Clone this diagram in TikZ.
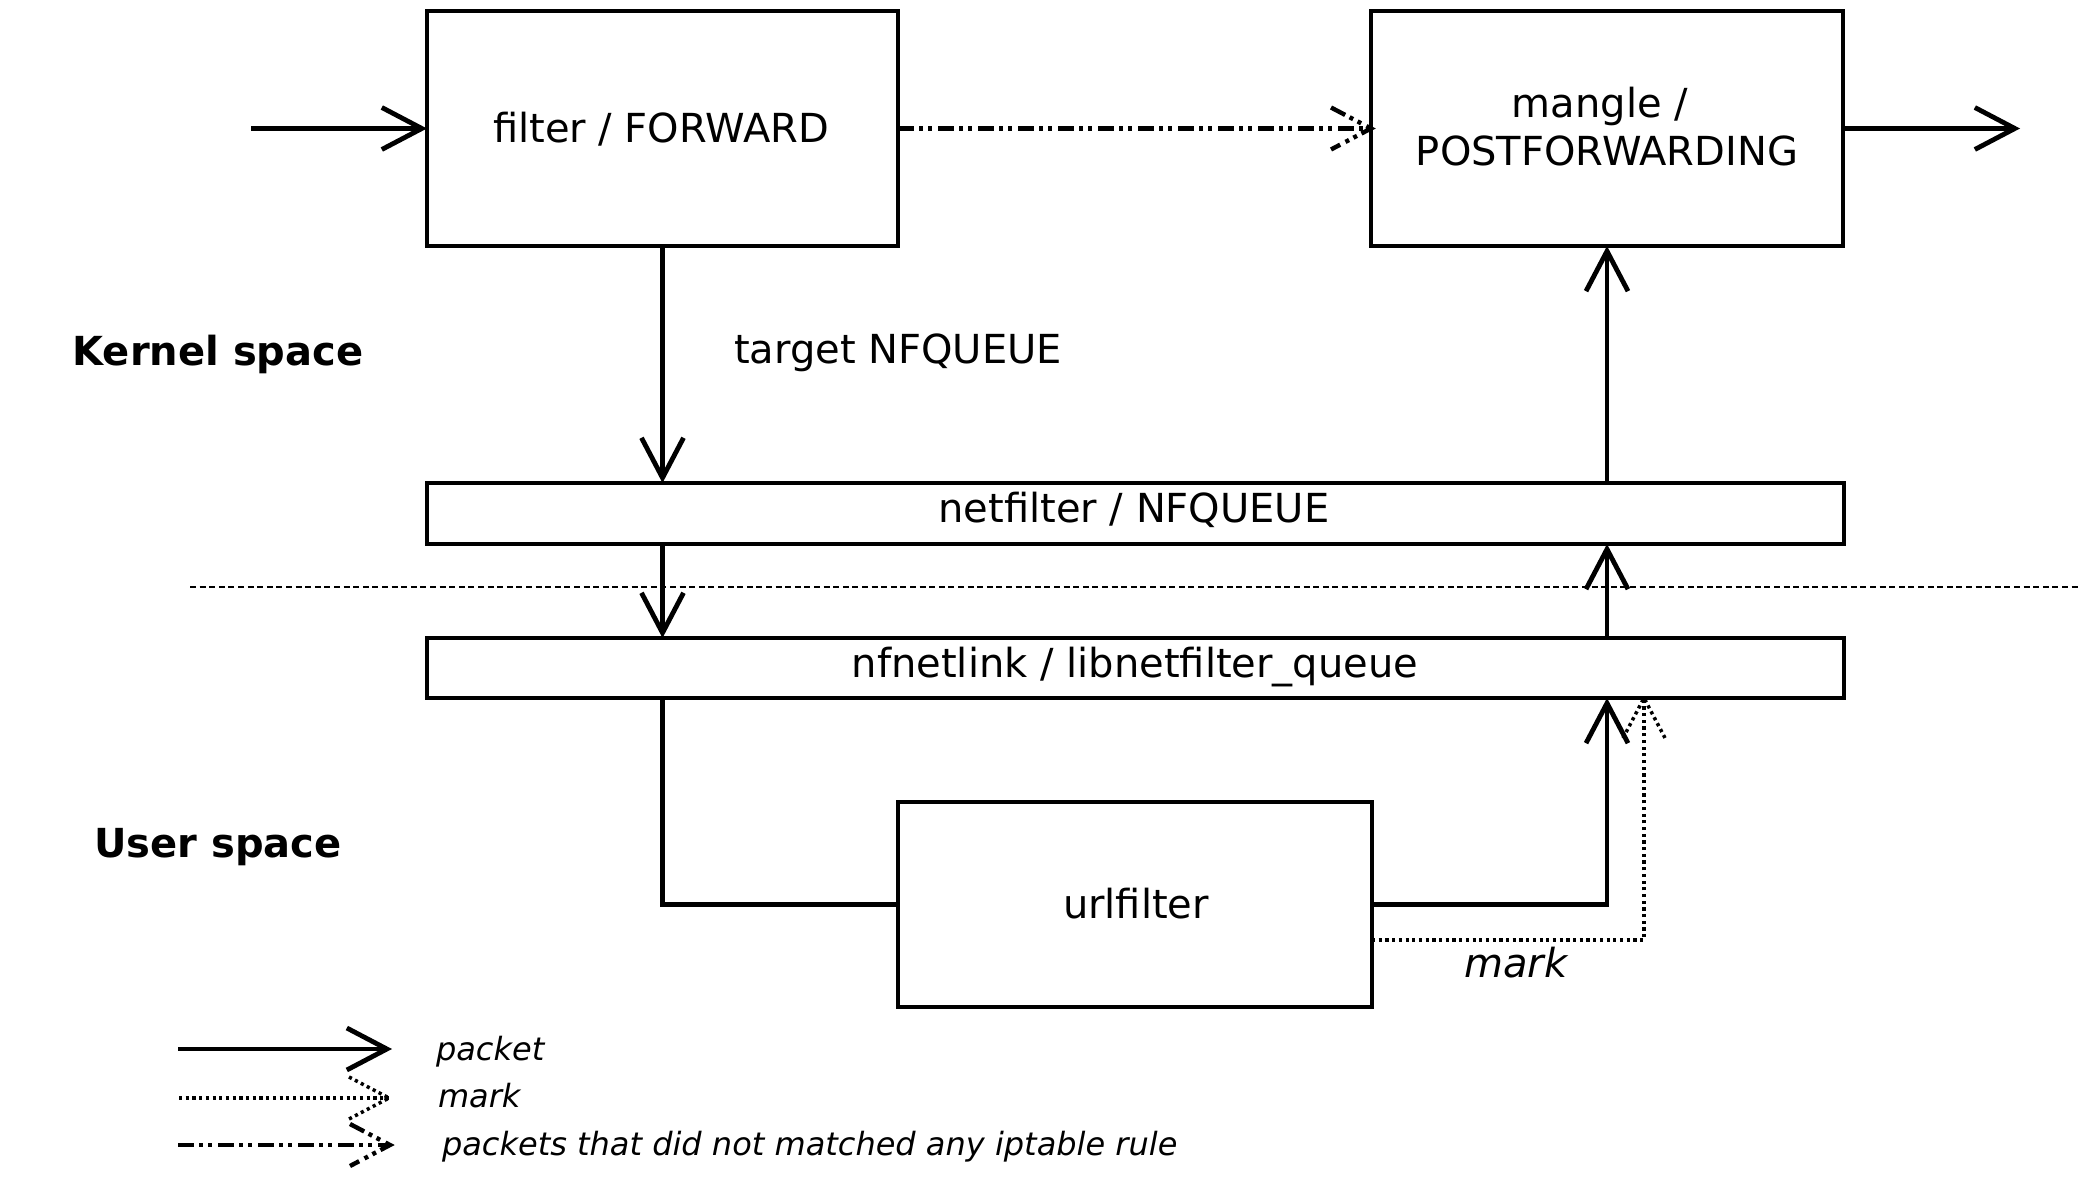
\documentclass[tikz,border=0pt]{standalone}
\usepackage{fontspec}
\setmainfont{DejaVu Sans}
\usetikzlibrary{arrows.meta,calc}
\begin{document}
\begin{tikzpicture}[x=0.5pt,y=-0.5pt,
  box/.style={draw,line width=2.4pt,inner sep=0pt,outer sep=0pt,rectangle},
  lbl/.style={inner sep=0pt,outer sep=0pt,anchor=base,font=\fontsize{20pt}{24pt}\selectfont},
  pkt/.style={line width=2.4pt,-{Straight Barb[length=20pt,width=21pt]}},
  pktline/.style={line width=2.4pt},
  mrk/.style={line width=1.75pt,dash pattern=on 1.6pt off 1.75pt},
  nomatch/.style={line width=2.2pt,dash pattern=on 8pt off 2.5pt on 2pt off 2.5pt on 2pt off 3pt},
  sep/.style={line width=0.65pt,dash pattern=on 3pt off 1.8pt},
  legtext/.style={inner sep=0pt,outer sep=0pt,anchor=base west,font=\fontsize{16pt}{19pt}\selectfont\itshape},
  headR/.pic={\draw[pic actions] (-40,-21) -- (0,0) -- (-40,21);},
  headU/.pic={\draw[pic actions] (-21,40) -- (0,0) -- (21,40);}
]
\useasboundingbox (0,0) rectangle (2091,1197);

% boxes
\node[box,minimum width=235.5pt,minimum height=117.5pt] (filter) at (662.5,128.5) {};
\node[box,minimum width=236pt,minimum height=117.5pt] (mangle) at (1607,128.5) {};
\node[box,minimum width=708.5pt,minimum height=30.5pt] (netfilter) at (1135.5,513.5) {};
\node[box,minimum width=708.5pt,minimum height=30pt] (nfnetlink) at (1135.5,668) {};
\node[box,minimum width=237pt,minimum height=102.5pt] (urlfilter) at (1135,904.5) {};

% labels
\node[lbl] (filterT) at (661,143) {filter / FORWARD};
\node[lbl] (mangleT1) at (1600,118) {mangle /};
\node[lbl] (mangleT2) at (1607,166) {POSTFORWARDING};
\node[lbl] (netfilterT) at (1134,522) {netfilter / NFQUEUE};
\node[lbl] (nfnetlinkT) at (1135,677) {nfnetlink / libnetfilter\_queue};
\node[lbl] (urlfilterT) at (1136,918) {urlfilter};
\node[lbl] (target) at (898,364) {target NFQUEUE};
\node[lbl,font=\fontsize{20pt}{24pt}\selectfont\bfseries] (kernel) at (218,366) {Kernel space};
\node[lbl,font=\fontsize{20pt}{24pt}\selectfont\bfseries] (user) at (218,857) {User space};
\node[lbl,font=\fontsize{20pt}{24pt}\selectfont\itshape] (markT) at (1516,977) {mark};

% separator
\coordinate (sepL) at (190,587);
\coordinate (sepR) at (2080,587);
\draw[sep] (sepL) -- (sepR);

% connectors
\coordinate (in) at (251,128.5);
\coordinate (out) at (2020,128.5);
\draw[pkt] (in) -- (filter.west);
\draw[pkt] (mangle.east) -- (out);
\draw[nomatch] (filter.east) -- (mangle.west);
\pic[nomatch] at (mangle.west) {headR};
\draw[pkt] (filter.south) -- (netfilter.north -| filter.south);
\draw[pkt] (netfilter.south -| filter.south) -- (nfnetlink.north -| filter.south);
\draw[pktline] (nfnetlink.south -| filter.south) |- (urlfilter.west);
\draw[pkt] (urlfilter.east) -| (nfnetlink.south -| mangle.south);
\draw[pkt] (nfnetlink.north -| mangle.south) -- (netfilter.south -| mangle.south);
\draw[pkt] (netfilter.north -| mangle.south) -- (mangle.south);
\coordinate (mk) at (1644,940);
\draw[mrk] (urlfilter.east |- mk) -- (mk) -- (mk |- nfnetlink.south);
\pic[mrk] at (mk |- nfnetlink.south) {headU};

% legend
\coordinate (l1a) at (178,1049);
\coordinate (l1b) at (392,1049);
\draw[pkt] (l1a) -- (l1b);
\node[legtext] (legpkt) at (436,1060) {packet};
\coordinate (l2a) at (179,1098);
\coordinate (l2b) at (389,1098);
\draw[mrk] (l2a) -- (l2b);
\pic[mrk] at (l2b) {headR};
\node[legtext] (legmark) at (438,1107) {mark};
\coordinate (l3a) at (178,1145);
\coordinate (l3b) at (390,1145);
\draw[nomatch] (l3a) -- (l3b);
\pic[nomatch] at (l3b) {headR};
\node[legtext] (legnm) at (442,1155) {packets that did not matched any iptable rule};
\end{tikzpicture}
\end{document}
